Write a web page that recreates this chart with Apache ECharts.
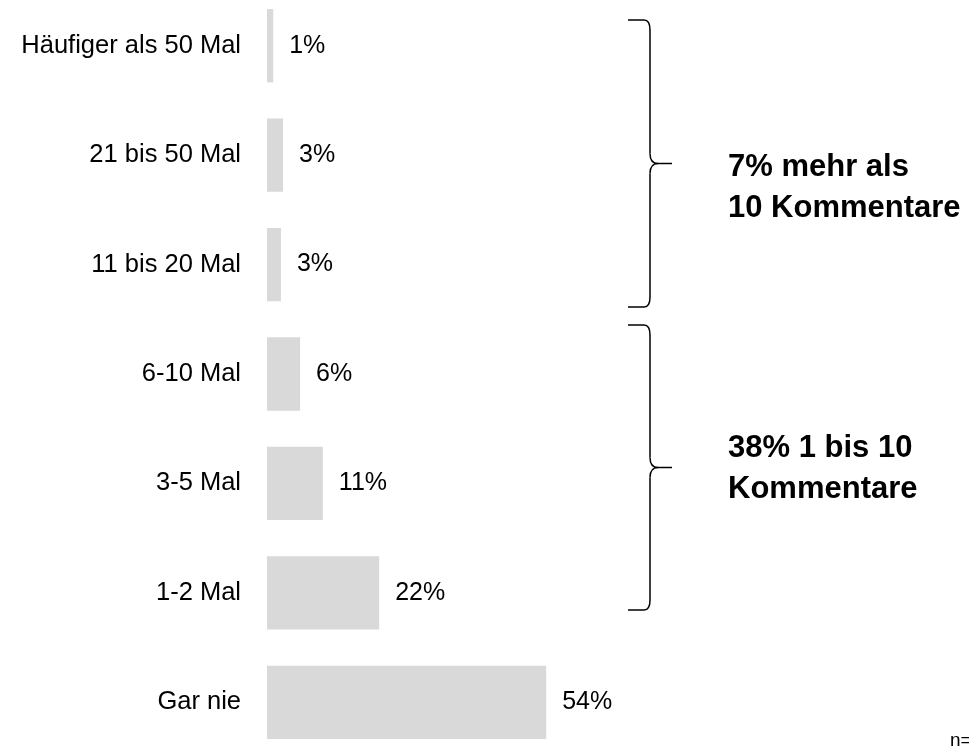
<!DOCTYPE html>
<html>
<head>
<meta charset="utf-8">
<script src="https://cdn.jsdelivr.net/npm/echarts@6/dist/echarts.min.js"></script>
<style>
    html, body { margin: 0; padding: 0; background: #fff; }
    #chart { width: 969px; height: 750px; }
</style>
</head>
<body>
<div id="chart"></div>
<script>
    // Kategorien (oben nach unten)
    var categories = ['Häufiger als 50 Mal', '21 bis 50 Mal', '11 bis 20 Mal', '6-10 Mal', '3-5 Mal', '1-2 Mal', 'Gar nie'];
    // Anteile in %, aus der Balkenlänge geschätzt
    var values = [1.2, 3.1, 2.7, 6.4, 10.8, 21.7, 54.0];
    // angezeigte Beschriftungen
    var valueLabels = ['1%', '3%', '3%', '6%', '11%', '22%', '54%'];
    var groupTexts = ['7% mehr als\n10 Kommentare', '38% 1 bis 10\nKommentare'];

    var font = 'Arial, "Liberation Sans", sans-serif';
    var chart = echarts.init(document.getElementById('chart'));

    var braceStyle = { stroke: '#000', lineWidth: 1.5, fill: 'none' };

    function seg(x1, y1, x2, y2) {
        return { type: 'line', shape: { x1: x1, y1: y1, x2: x2, y2: y2 }, style: braceStyle };
    }
    function curve(x1, y1, cx, cy, x2, y2) {
        return { type: 'bezierCurve', shape: { x1: x1, y1: y1, cpx1: cx, cpy1: cy, x2: x2, y2: y2 }, style: braceStyle };
    }

    // geschweifte Klammer: x = Linie, top/bottom, Spitze nach rechts
    function brace(x, top, bottom) {
        var mid = (top + bottom) / 2;
        var arm = 22, r = 10;
        return [
            seg(x - arm, top, x - 6, top),
            curve(x - 6, top, x, top, x, top + r),
            seg(x, top + r, x, mid - r),
            curve(x, mid - r, x, mid, x + 8, mid),
            seg(x + 8, mid, x + arm, mid),
            curve(x + 8, mid, x, mid, x, mid + r),
            seg(x, mid + r, x, bottom - r),
            curve(x, bottom - r, x, bottom, x - 6, bottom),
            seg(x - 6, bottom, x - arm, bottom)
        ];
    }

    var graphics = brace(650, 20, 307).concat(brace(650, 325, 610));
    graphics.push(
        {
            type: 'text',
            left: 728,
            top: 147,
            style: {
                text: groupTexts[0],
                font: 'bold 31px ' + font,
                lineHeight: 41,
                fill: '#000'
            }
        },
        {
            type: 'text',
            left: 728,
            top: 428,
            style: {
                text: groupTexts[1],
                font: 'bold 31px ' + font,
                lineHeight: 41,
                fill: '#000'
            }
        },
        {
            type: 'text',
            left: 950,
            top: 731,
            style: {
                text: 'n=',
                font: '19px ' + font,
                fill: '#000'
            }
        }
    );

    var option = {
        animation: false,
        grid: {
            left: 267,
            top: -9,
            width: 517,
            height: 766,
            outerBoundsMode: 'none'
        },
        xAxis: {
            type: 'value',
            min: 0,
            max: 100,
            show: false
        },
        yAxis: {
            type: 'category',
            inverse: true,
            data: categories,
            axisLine: { show: false },
            axisTick: { show: false },
            axisLabel: {
                margin: 26,
                fontFamily: font,
                fontSize: 25.5,
                color: '#000'
            }
        },
        series: [
            {
                type: 'bar',
                data: values,
                barCategoryGap: '33%',
                itemStyle: { color: '#d9d9d9' },
                label: {
                    show: true,
                    position: 'right',
                    distance: 16,
                    fontFamily: font,
                    fontSize: 25,
                    color: '#000',
                    formatter: function (p) {
                        return valueLabels[p.dataIndex];
                    }
                }
            }
        ],
        graphic: graphics
    };
    chart.setOption(option);
</script>
</body>
</html>
